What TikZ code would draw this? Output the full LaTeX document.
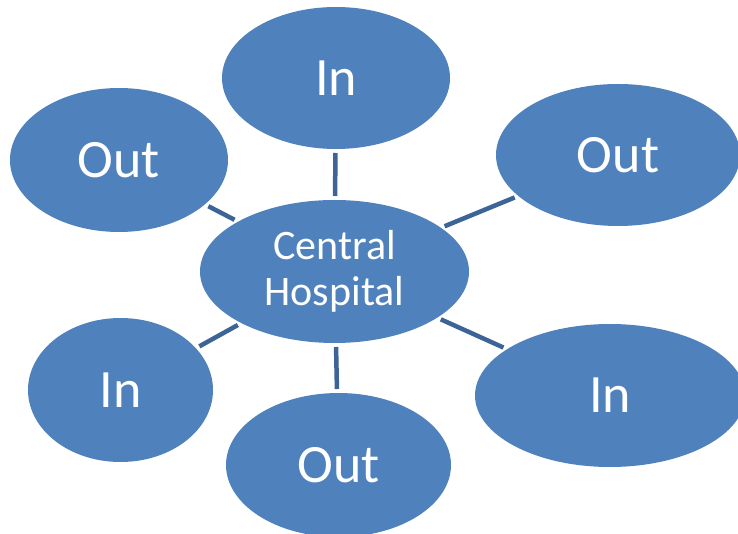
\documentclass[tikz,border=0pt]{standalone}
\usepackage{fontspec}
\setmainfont{Carlito}
\usetikzlibrary{shapes.geometric}
\definecolor{fillblue}{HTML}{4F81BD}
\definecolor{lineblue}{HTML}{3C6496}
\begin{document}
\begin{tikzpicture}[x=1pt,y=-1pt,
  bubble/.style={ellipse,fill=fillblue,text=white,inner sep=0pt,outer sep=0pt,
    font=\fontsize{54}{60}\selectfont},
  hubstyle/.style={bubble,align=center,font=\fontsize{42}{46}\selectfont},
  link/.style={draw=lineblue,line width=4.5pt,shorten <=4pt,shorten >=4pt}]
\useasboundingbox (0,0) rectangle (738,534);
\node[hubstyle,minimum width=269pt,minimum height=143pt] (hub) at (334.5,271.5) {Central\\Hospital};
\node[bubble,minimum width=228pt,minimum height=142pt] (tin) at (336,78) {In};
\node[bubble,minimum width=218pt,minimum height=144pt] (tlo) at (119,160) {Out};
\node[bubble,minimum width=244pt,minimum height=142pt] (tro) at (618,155) {Out};
\node[bubble,minimum width=185pt,minimum height=144pt] (bli) at (120.5,390) {In};
\node[bubble,minimum width=225pt,minimum height=144pt] (bmo) at (338.5,465) {Out};
\node[bubble,minimum width=270pt,minimum height=143pt] (bri) at (610,395.5) {In};
\draw[link] (hub) -- (tin);
\draw[link] (hub) -- (tlo);
\draw[link] (hub) -- (tro);
\draw[link] (hub) -- (bli);
\draw[link] (hub) -- (bmo);
\draw[link] (hub) -- (bri);
\end{tikzpicture}
\end{document}
